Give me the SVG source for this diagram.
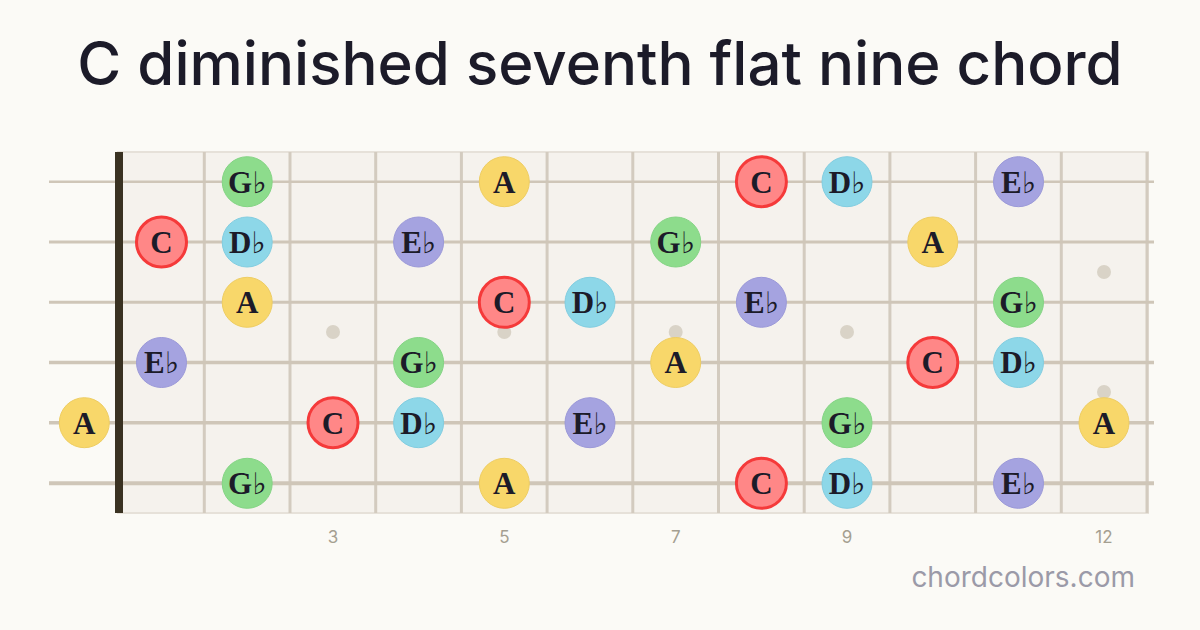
<svg xmlns="http://www.w3.org/2000/svg" width="1200" height="630" viewBox="0 0 1200 630">
<defs>
<style>
.title{font-family:Inter,"Noto Sans",sans-serif;font-size:60px;font-weight:500;fill:#1c1b29}
.str{stroke:#cfc6b8}
.fret{stroke:#d3cbbf;stroke-width:3}
.dot{fill:#d9d3c7}
.fn{font-family:Inter,"Liberation Sans",sans-serif;font-size:17px;fill:#a59f91;text-anchor:middle}
.site{font-family:Inter,"Liberation Sans",sans-serif;font-size:28px;fill:#9b9aa8;text-anchor:end}
.lbl{font-family:"Liberation Serif","DejaVu Serif",serif;font-size:31px;font-weight:bold;fill:#1c1b29;text-anchor:middle}
.fl{font-family:"DejaVu Serif",serif;font-size:30px;font-weight:normal}
.C circle{fill:#ff8787;stroke:#f53a3a;stroke-width:3}
.Db circle{fill:#8dd7e8;stroke:#82cde0;stroke-width:1}
.Eb circle{fill:#a5a3e0;stroke:#9b99d8;stroke-width:1}
.Gb circle{fill:#8ddc8c;stroke:#84d484;stroke-width:1}
.A circle{fill:#f8d76a;stroke:#eecd62;stroke-width:1}
</style>
</defs>
<rect width="1200" height="630" fill="#fbfaf6"/>
<text class="title" x="600" y="85" text-anchor="middle">C diminished seventh flat nine chord</text>
<g id="fretboard">
<rect x="118" y="152" width="1030" height="361" fill="#f5f2ed" stroke="#e6e1d9" stroke-width="2"/>
<g class="frets">
<line class="fret" x1="204.3" y1="152" x2="204.3" y2="513"/>
<line class="fret" x1="290" y1="152" x2="290" y2="513"/>
<line class="fret" x1="375.7" y1="152" x2="375.7" y2="513"/>
<line class="fret" x1="461.4" y1="152" x2="461.4" y2="513"/>
<line class="fret" x1="547.1" y1="152" x2="547.1" y2="513"/>
<line class="fret" x1="632.8" y1="152" x2="632.8" y2="513"/>
<line class="fret" x1="718.5" y1="152" x2="718.5" y2="513"/>
<line class="fret" x1="804.2" y1="152" x2="804.2" y2="513"/>
<line class="fret" x1="889.9" y1="152" x2="889.9" y2="513"/>
<line class="fret" x1="975.6" y1="152" x2="975.6" y2="513"/>
<line class="fret" x1="1061.3" y1="152" x2="1061.3" y2="513"/>
<line class="fret" x1="1147" y1="152" x2="1147" y2="513"/>
</g>
<g class="markers">
<circle class="dot" cx="333" cy="332" r="7"/>
<circle class="dot" cx="504.3" cy="332" r="7"/>
<circle class="dot" cx="675.7" cy="332" r="7"/>
<circle class="dot" cx="847" cy="332" r="7"/>
<circle class="dot" cx="1104" cy="272" r="7"/>
<circle class="dot" cx="1104" cy="392" r="7"/>
</g>
<g class="strings">
<line class="str" x1="49" y1="181.7" x2="1154" y2="181.7" stroke-width="2.5"/>
<line class="str" x1="49" y1="242" x2="1154" y2="242" stroke-width="2.8"/>
<line class="str" x1="49" y1="302.3" x2="1154" y2="302.3" stroke-width="3"/>
<line class="str" x1="49" y1="362.5" x2="1154" y2="362.5" stroke-width="3.3"/>
<line class="str" x1="49" y1="422.7" x2="1154" y2="422.7" stroke-width="3.6"/>
<line class="str" x1="49" y1="483.3" x2="1154" y2="483.3" stroke-width="4"/>
</g>
<rect x="115" y="152" width="8" height="361" fill="#3a3222"/>
<g class="fretnums">
<text class="fn" x="333" y="543">3</text>
<text class="fn" x="504.3" y="543">5</text>
<text class="fn" x="675.7" y="543">7</text>
<text class="fn" x="847" y="543">9</text>
<text class="fn" x="1104" y="543">12</text>
</g>
</g>
<g id="notes">
<!-- string 1 -->
<g id="s1-gb" class="Gb"><circle cx="247.2" cy="181.7" r="25"/><text class="lbl" x="247.2" y="192.5">G<tspan class="fl">♭</tspan></text></g>
<g id="s1-a" class="A"><circle cx="504.3" cy="181.7" r="25"/><text class="lbl" x="504.3" y="192.5">A</text></g>
<g id="s1-c" class="C"><circle cx="761.4" cy="181.7" r="25"/><text class="lbl" x="761.4" y="192.5">C</text></g>
<g id="s1-db" class="Db"><circle cx="847" cy="181.7" r="25"/><text class="lbl" x="847" y="192.5">D<tspan class="fl">♭</tspan></text></g>
<g id="s1-eb" class="Eb"><circle cx="1018.5" cy="181.7" r="25"/><text class="lbl" x="1018.5" y="192.5">E<tspan class="fl">♭</tspan></text></g>
<!-- string 2 -->
<g id="s2-c" class="C"><circle cx="161.5" cy="242" r="25"/><text class="lbl" x="161.5" y="252.8">C</text></g>
<g id="s2-db" class="Db"><circle cx="247.2" cy="242" r="25"/><text class="lbl" x="247.2" y="252.8">D<tspan class="fl">♭</tspan></text></g>
<g id="s2-eb" class="Eb"><circle cx="418.6" cy="242" r="25"/><text class="lbl" x="418.6" y="252.8">E<tspan class="fl">♭</tspan></text></g>
<g id="s2-gb" class="Gb"><circle cx="675.7" cy="242" r="25"/><text class="lbl" x="675.7" y="252.8">G<tspan class="fl">♭</tspan></text></g>
<g id="s2-a" class="A"><circle cx="932.8" cy="242" r="25"/><text class="lbl" x="932.8" y="252.8">A</text></g>
<!-- string 3 -->
<g id="s3-a" class="A"><circle cx="247.2" cy="302.3" r="25"/><text class="lbl" x="247.2" y="313.1">A</text></g>
<g id="s3-c" class="C"><circle cx="504.3" cy="302.3" r="25"/><text class="lbl" x="504.3" y="313.1">C</text></g>
<g id="s3-db" class="Db"><circle cx="590" cy="302.3" r="25"/><text class="lbl" x="590" y="313.1">D<tspan class="fl">♭</tspan></text></g>
<g id="s3-eb" class="Eb"><circle cx="761.4" cy="302.3" r="25"/><text class="lbl" x="761.4" y="313.1">E<tspan class="fl">♭</tspan></text></g>
<g id="s3-gb" class="Gb"><circle cx="1018.5" cy="302.3" r="25"/><text class="lbl" x="1018.5" y="313.1">G<tspan class="fl">♭</tspan></text></g>
<!-- string 4 -->
<g id="s4-eb" class="Eb"><circle cx="161.5" cy="362.5" r="25"/><text class="lbl" x="161.5" y="373.3">E<tspan class="fl">♭</tspan></text></g>
<g id="s4-gb" class="Gb"><circle cx="418.6" cy="362.5" r="25"/><text class="lbl" x="418.6" y="373.3">G<tspan class="fl">♭</tspan></text></g>
<g id="s4-a" class="A"><circle cx="675.7" cy="362.5" r="25"/><text class="lbl" x="675.7" y="373.3">A</text></g>
<g id="s4-c" class="C"><circle cx="932.8" cy="362.5" r="25"/><text class="lbl" x="932.8" y="373.3">C</text></g>
<g id="s4-db" class="Db"><circle cx="1018.5" cy="362.5" r="25"/><text class="lbl" x="1018.5" y="373.3">D<tspan class="fl">♭</tspan></text></g>
<!-- string 5 -->
<g id="s5-a0" class="A"><circle cx="84.3" cy="422.7" r="25"/><text class="lbl" x="84.3" y="433.5">A</text></g>
<g id="s5-c" class="C"><circle cx="333" cy="422.7" r="25"/><text class="lbl" x="333" y="433.5">C</text></g>
<g id="s5-db" class="Db"><circle cx="418.6" cy="422.7" r="25"/><text class="lbl" x="418.6" y="433.5">D<tspan class="fl">♭</tspan></text></g>
<g id="s5-eb" class="Eb"><circle cx="590" cy="422.7" r="25"/><text class="lbl" x="590" y="433.5">E<tspan class="fl">♭</tspan></text></g>
<g id="s5-gb" class="Gb"><circle cx="847" cy="422.7" r="25"/><text class="lbl" x="847" y="433.5">G<tspan class="fl">♭</tspan></text></g>
<g id="s5-a12" class="A"><circle cx="1104" cy="422.7" r="25"/><text class="lbl" x="1104" y="433.5">A</text></g>
<!-- string 6 -->
<g id="s6-gb" class="Gb"><circle cx="247.2" cy="483.3" r="25"/><text class="lbl" x="247.2" y="494.1">G<tspan class="fl">♭</tspan></text></g>
<g id="s6-a" class="A"><circle cx="504.3" cy="483.3" r="25"/><text class="lbl" x="504.3" y="494.1">A</text></g>
<g id="s6-c" class="C"><circle cx="761.4" cy="483.3" r="25"/><text class="lbl" x="761.4" y="494.1">C</text></g>
<g id="s6-db" class="Db"><circle cx="847" cy="483.3" r="25"/><text class="lbl" x="847" y="494.1">D<tspan class="fl">♭</tspan></text></g>
<g id="s6-eb" class="Eb"><circle cx="1018.5" cy="483.3" r="25"/><text class="lbl" x="1018.5" y="494.1">E<tspan class="fl">♭</tspan></text></g>
</g>
<text class="site" x="1135" y="587">chordcolors.com</text>
</svg>
